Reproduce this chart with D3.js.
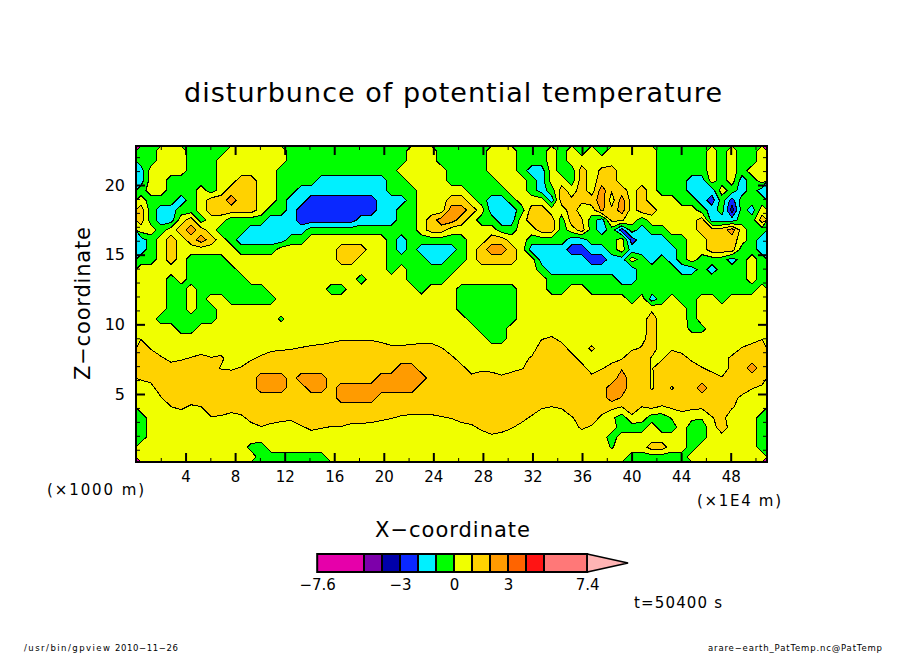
<!DOCTYPE html>
<html><head><meta charset="utf-8">
<script src="https://cdnjs.cloudflare.com/ajax/libs/d3/7.8.5/d3.min.js"></script>
<style>html,body{margin:0;padding:0;background:#fff}svg{display:block}text{font-family:"DejaVu Sans",sans-serif;fill:#000}</style>
</head><body><svg id="c" width="904" height="654"></svg>
<script>
const titleText="disturbunce of potential temperature";
const xTickValues=[4,8,12,16,20,24,28,32,36,40,44,48];
const xMinorValues=[2,6,10,14,18,22,26,30,34,38,42,46,50];
const yTickValues=[5,10,15,20];
const yMinorValues=[1,2,3,4,6,7,8,9,11,12,13,14,16,17,18,19,21,22];
const levels=[-7.6,-5,-4,-3,-2,-1,0,1,2,3,4,5,7.4];
const bandColors=["#e600aa","#7d00aa","#0000aa","#0a28ff","#00f0ff","#00ff00","#f0ff00","#ffd200","#ff9b00","#ff6400","#ff1414","#ff7878"];
const overColor="#ffb4b4";
const legendTicks=[-7.6,-3,0,3,7.4];
const xMax=50.93,zBottom=0.12,zTop=22.8;
const cols=63;
// potential temperature disturbance, top row first
const field=[
[-.5,-.5,.5,.5,.5,-.5,-.5,-.5,-.5,.5,.5,.5,.5,.5,.5,-.5,-.5,-.5,-.5,-.5,-.5,-.5,-.5,-.5,-.5,-.5,-.5,.5,.5,.5,-.5,-.5,-.5,-.5,-.5,.5,.5,.5,-.5,-.5,-.5,.5,-.5,.5,-.5,.5,-.5,.5,.5,.5,.5,.5,-.5,-.5,-.5,-.5,-.5,.5,-.5,.5,-.5,-.5,.5],
[-.5,-.5,.5,.5,.5,-.5,-.5,-.5,.5,.5,.5,.5,.5,.5,.5,-.5,-.5,-.5,-.5,-.5,-.5,-.5,-.5,-.5,-.5,-.5,-.5,.5,.5,.5,-.5,-.5,-.5,-.5,-.5,.5,.5,.5,-.5,-.5,-.5,.5,-.5,.5,.5,.5,.5,.5,.5,.5,.5,.5,-.5,-.5,-.5,-.5,-.5,.5,-.5,.5,-.5,-.5,.5],
[-1.5,.5,.5,.5,.5,-.5,-.5,-.5,.5,.5,.5,.5,.5,.5,-.5,-.5,-.5,-.5,-.5,-.5,-.5,-.5,-.5,-.5,-.5,-.5,.5,.5,.5,.5,.5,-.5,-.5,-.5,-.5,.5,.5,.5,-.5,-1.5,-1.5,.5,-.5,-.5,1.5,.5,1.2,1.5,.5,.5,.5,.5,-.5,-.5,-.5,-.5,-.5,.5,-.5,.5,-.5,.5,.5],
[-1.5,.5,.5,-.5,-.5,-.5,-.5,-.5,.5,.5,1.5,1.5,.5,.5,-.5,-.5,-.5,-.5,-1.5,-1.5,-1.5,-1.5,-1.5,-1.5,-1.5,-.5,-.5,.5,.5,.5,.5,-.5,-.5,-.5,-.5,-.5,.5,.5,.5,-.5,-1.5,.5,.5,-.5,1.5,.5,1.5,1.5,.5,.5,.5,.5,-.5,-.5,-.5,-1.5,-1.5,.5,-.5,.5,-1.5,-.5,.5],
[-.5,.5,.5,-.5,-.5,-.5,.5,-.5,.5,1.5,1.5,1.5,.5,.5,-.5,-.5,-1.5,-1.5,-1.5,-1.5,-1.5,-1.5,-1.5,-1.5,-1.5,-.5,-.5,-.5,.5,.5,.5,.5,.5,-.5,-.5,-.5,-.5,.5,.5,-.5,-1.5,-.5,1.5,.5,1.5,.5,2.5,1.1,1.5,.5,1.5,.5,-.5,-.5,-.5,-1.5,-1.5,-1.5,.5,-.5,-1.5,-.5,-1.5],
[.5,-.5,-.5,-.5,-1.5,-.5,.5,1.5,1.5,2.5,1.5,1.5,.5,.5,-.5,-1.5,-1.5,-2.5,-2.5,-2.5,-2.5,-2.5,-2.5,-2.5,-1.5,-1.5,-1.5,-.5,.5,.5,.5,1.5,1.5,.5,-.5,-1.5,-1.5,-.5,.5,.5,.5,-1.5,1.5,1.2,1.2,1.5,2.5,.5,2.5,.5,1.5,.5,.5,.5,-.5,-.5,-1.5,-2.5,-.5,-2.5,-.5,-.5,-.5],
[1.5,-.5,-1.5,-1.5,-.5,-.5,.5,1.5,1.5,1.5,1.5,1.5,.5,-.5,-.5,-1.5,-2.5,-2.5,-2.5,-2.5,-2.5,-2.5,-2.5,-2.5,-1.5,-1.5,-.5,-.5,.5,.5,.5,2.5,2.5,1.5,.5,-1.5,-1.5,-1.5,-.5,1.5,1.5,.5,.5,1.5,.5,.5,2.2,1.3,2.5,.5,1.5,1.5,.5,.5,.5,.5,-.5,-1.5,-.5,-3.5,-.5,-1.5,.5],
[1.5,-.5,-1.5,-1.5,.5,1.5,-.5,.5,.5,-.5,-.5,-.5,-.5,-1.5,-1.5,-1.5,-2.5,-2.5,-2.5,-2.5,-2.5,-2.5,-1.5,-1.5,-1.5,-1.5,-.5,-.5,.5,1.5,2.5,2.5,1.5,.5,-.5,-.5,-1.5,-1.5,.5,1.5,1.5,1.5,-.5,1.5,1.1,-.5,-1.5,1.3,1.1,.5,-.5,.5,.5,.5,.5,.5,1.5,-1.5,-1.5,-1.5,-.5,-.5,1.5],
[.5,.5,-.5,.5,1.5,2.5,1.5,.5,-.5,-.5,-.5,-1.5,-1.5,-1.5,-1.5,-1.5,-1.5,-.5,-.5,-.5,-.5,-.5,-.5,-.5,-.5,-.5,-.5,-.5,.5,1.5,1.5,.5,.5,.5,.5,.5,-.5,-.5,.5,.5,1.5,1.5,-.5,.5,1.5,-.5,-1.5,-.5,-2.5,-.5,-1.5,-.5,-.5,.5,.5,.5,1.5,1.5,1.5,2.5,.5,-.5,-.5],
[-1.5,-.5,.5,1.5,.5,1.5,2.5,1.5,.5,-.5,-1.5,-1.5,-1.5,-1.5,-1.5,-.5,-.5,.5,.5,.5,.5,.5,.5,.5,.5,-.5,-1.5,-.5,-.5,-.5,-.5,-.5,-.5,.5,.5,1.5,1.5,.5,.5,-.5,-.5,-.5,-.5,-1.5,-1.5,-.5,-.5,-.5,.5,-2.5,-1.5,-1.5,-1.5,-.5,-.5,.5,.5,1.5,1.5,1.5,.5,-.5,-1.5],
[-1.5,-.5,.5,1.5,.5,.5,.5,.5,.5,.5,-.5,-.5,-.5,-.5,.5,.5,.5,.5,.5,.5,1.5,1.5,1.5,.5,.5,-.5,-1.5,-.5,-1.5,-1.5,-1.5,-1.5,-.5,.5,1.5,2.5,2.5,1.5,.5,-1.5,-1.5,-1.5,-1.5,-2.5,-2.5,-1.5,-1.5,-.5,.5,-1.5,-1.5,-1.5,-1.5,-1.5,-.5,.5,.5,1.5,1.5,1.5,-.5,-.5,-1.5],
[-.5,-.5,.5,1.5,.5,-.5,-.5,-.5,-.5,.5,.5,.5,.5,.5,.5,.5,.5,.5,.5,.5,1.5,1.5,.5,.5,.5,-.5,-.5,-.5,-.5,-1.5,-1.5,-.5,-.5,.5,1.5,1.5,1.5,1.5,.5,.5,-1.5,-1.5,-1.5,-1.5,-1.5,-2.5,-2.5,-1.5,-1.5,.5,-.5,-1.5,-.5,-1.5,-.5,.5,-.5,-.5,-.5,-1.5,-.5,.5,-.5],
[.5,.5,.5,.5,.5,-.5,-.5,-.5,-.5,-.5,.5,.5,.5,.5,.5,.5,.5,.5,.5,.5,.5,.5,.5,.5,.5,-.5,.5,-.5,-.5,-.5,-.5,-.5,.5,.5,.5,.5,.5,.5,.5,.5,-.5,-1.5,-1.5,-1.5,-1.5,-1.5,-1.5,-1.5,-1.5,-1.5,-.5,-.5,-.5,-.5,-1.5,-1.5,-.5,-1.5,-.5,-.5,-.5,.5,-.5],
[.5,.5,.5,-.5,.5,-.5,-.5,-.5,-.5,-.5,-.5,.5,.5,.5,.5,.5,.5,.5,.5,.5,.5,.5,-.5,.5,.5,.5,.5,-.5,-.5,-.5,-.5,.5,.5,.5,.5,.5,.5,.5,.5,.5,.5,-.5,-.5,-.5,-.5,-.5,-.5,-.5,-1.5,-1.5,-.5,-.5,-.5,-.5,-.5,-.5,-.5,-.5,-.5,-.5,-.5,.5,-.5],
[.5,.5,.5,-.5,-.5,.5,-.5,-.5,-.5,-.5,-.5,-.5,-.5,.5,.5,.5,.5,.5,.5,-.5,-.5,.5,.5,.5,.5,.5,.5,.5,-.5,.5,.5,.5,-.5,-.5,-.5,-.5,-.5,-.5,.5,.5,.5,-.5,-.5,.5,.5,-.5,-.5,-.5,-.5,-.5,-.5,-.5,-.5,-.5,-.5,-.5,-.5,-.5,-.5,-.5,-.5,-.5,.5],
[.5,.5,.5,-.5,-.5,.5,-.5,.5,.5,-.5,-.5,-.5,-.5,-.5,.5,.5,.5,.5,.5,.5,.5,.5,.5,.5,.5,.5,.5,.5,.5,.5,.5,.5,-.5,-.5,-.5,-.5,-.5,-.5,.5,.5,.5,.5,.5,.5,.5,.5,.5,.5,.5,-.5,.5,-1.5,-.5,.5,-.5,-.5,.5,.5,-.5,.5,.5,.5,.5],
[.5,.5,.5,-.5,-.5,.5,-.5,-.5,.5,.5,.5,.5,.5,.5,.5,.5,.5,.5,.5,.5,.5,.5,.5,.5,.5,.5,.5,.5,.5,.5,.5,.5,-.5,-.5,-.5,-.5,-.5,-.5,.5,.5,.5,.5,.5,.5,.5,.5,.5,.5,.5,.5,.5,.8,.5,.5,.5,-.5,.5,.5,.5,.5,.5,.5,.5],
[.5,.5,-.5,-.5,-.5,-.5,-.5,-.5,.5,.5,.5,.5,.5,.5,-.2,.5,.5,.5,.5,.5,.5,.5,.5,.5,.5,.5,.5,.5,.5,.5,.5,.5,.5,-.5,-.5,-.5,-.5,-.5,.5,.5,.5,.5,.5,.5,.5,.5,.5,.5,.5,.5,.5,1.5,.5,.5,.5,-.5,.5,.5,.5,.5,.5,.5,.5],
[.5,.5,.5,.5,-.5,-.5,.5,.5,.5,.5,.5,.5,.5,.5,.5,.5,.5,.5,.5,.5,.5,.5,.5,.5,.5,.5,.5,.5,.5,.5,.5,.5,.5,.5,-.5,-.5,-.5,.5,.5,.5,.5,.2,.5,.5,.5,.5,.5,.5,.5,.5,.5,1.5,.5,.5,.5,-.3,-.3,.5,.5,.5,.5,.5,.5],
[.9,.5,.5,.5,.5,.5,.5,.5,.5,.5,.5,.5,.5,.5,.5,.5,.1,.3,.4,.6,.8,.8,.8,.8,.6,.3,.3,.4,.5,.5,.1,.5,.5,.5,.5,-.5,-.5,.5,.5,.5,.9,1.2,.6,.5,.5,.5,.5,.5,.5,.5,.7,1.5,.5,.5,.5,.5,.5,.5,.5,.5,.1,.5,.9],
[1.9,.9,.2,.5,.5,.1,.4,.1,.5,.5,.5,.5,.3,.7,.8,.9,1.1,1.3,1.4,1.6,1.8,1.8,1.8,1.8,1.6,1.3,1.3,1.4,1.5,1.5,1.1,.3,.5,.5,.5,.5,.5,.5,.5,.2,1.9,1.5,1.6,.5,.5,1.2,.5,.5,.5,.8,1.1,1.5,.5,.8,.5,.5,.5,.5,.5,.3,1.1,1.5,1.9],
[1.5,1.9,1.2,.6,.8,1.1,1.4,1.1,1.2,.5,.3,.8,1.3,1.7,1.8,1.9,1.5,1.5,1.5,1.5,1.5,1.5,1.5,1.5,1.5,1.5,1.5,1.5,1.5,1.5,1.5,1.3,.4,.5,.5,.5,.5,.5,.5,1.2,1.5,1.5,1.5,1.5,.5,.5,.5,.5,.9,1.8,1.5,.9,.8,1.8,1.5,.7,.1,.5,.5,1.3,1.5,1.5,1.5],
[1.5,1.5,1.5,1.6,1.8,1.5,1.5,1.5,.9,.8,1.1,1.8,1.5,1.5,1.5,1.5,1.5,1.5,1.5,1.5,1.5,1.5,1.5,1.5,1.5,1.5,2.5,2.5,1.5,1.5,1.5,1.5,1.4,.4,.7,.6,.3,.6,.9,1.5,1.5,1.5,1.5,1.5,1.5,.4,.9,1.5,1.9,1.5,1.5,.9,1.8,1.5,1.5,1.7,1.1,.6,.1,1.5,1.5,2.5,1.5],
[1.2,1.5,1.5,1.5,1.5,1.5,1.5,1.5,1.9,1.8,1.5,1.5,2.5,2.5,2.5,1.5,2.5,2.5,2.5,1.5,1.5,1.5,1.5,1.5,2.5,2.5,2.5,2.5,2.5,1.5,1.5,1.5,1.5,1.4,1.7,1.6,1.3,1.6,1.9,1.5,1.5,1.5,1.5,1.5,1.5,1.4,1.9,1.5,2.5,1.5,1.5,.9,1.5,1.5,1.5,1.5,1.5,1.6,1.1,1.5,1.5,1.5,1.7],
[.2,.5,1.9,1.5,1.5,1.5,1.5,1.5,1.5,1.5,1.5,1.5,2.5,2.5,2.5,1.5,1.5,2.5,2.5,1.5,2.5,2.5,2.5,2.5,2.5,2.5,2.5,2.5,1.5,1.5,1.5,1.5,1.5,1.5,1.5,1.5,1.5,1.5,1.5,1.5,1.5,1.5,1.5,1.5,1.5,1.5,1.5,2.5,2.5,1.5,1.5,.9,1.5,.9,1.5,1.5,2.5,1.5,1.5,1.5,1.7,1.1,.7],
[.5,.5,.9,1.9,1.5,1.7,1.9,1.5,1.5,1.5,1.5,1.5,1.5,1.5,1.5,1.5,1.5,1.5,1.5,1.5,2.5,2.5,2.5,2.5,1.5,1.5,1.5,1.5,1.5,1.5,1.5,1.5,1.5,1.5,1.5,1.5,1.5,1.5,1.5,1.5,1.5,1.9,1.5,1.5,1.5,1.5,1.5,2.5,1.9,1.5,1.9,1.5,1.8,1.5,1.5,1.5,1.5,1.5,1.5,1.5,.7,.1,.5],
[.5,.5,.5,.9,1.2,.7,.9,1.9,1.8,1.5,1.7,1.5,1.5,1.5,1.5,1.5,1.5,1.5,1.5,1.5,1.5,1.5,1.5,1.5,1.5,1.5,1.8,1.7,1.7,1.7,1.9,1.5,1.5,1.5,1.5,1.5,1.5,1.5,1.5,1.8,1.1,.9,1.1,1.9,1.5,1.5,1.7,1.2,.9,1.7,.9,1.1,.8,1.1,1.4,1.2,1.1,1.9,1.5,1.1,.5,.5,.5],
[-.5,.5,.5,.5,.2,.5,.5,.9,.8,.5,.7,1.5,1.9,1.6,1.4,1.3,1.8,1.5,1.5,1.9,1.9,1.6,1.6,1.5,1.3,1.1,.8,.7,.7,.7,.9,1.1,1.5,1.7,1.5,1.5,1.5,1.5,1.5,.8,.1,.5,.1,.9,1.5,1.8,.7,.2,-.5,.7,.5,-.5,-.5,.1,.4,.2,.1,.9,1.5,.1,.5,.5,-.5],
[-.5,.5,.5,.5,.5,.5,.5,.5,.5,.5,.5,.5,.9,.6,.4,.3,.8,1.3,1.1,.9,.9,.6,.6,.5,.3,.1,.5,.5,.5,.5,.5,.1,.5,.7,1.3,1.7,1.5,1.1,.5,.5,.5,.5,.5,.5,1.2,.8,.5,.5,-.5,-.5,-.5,.5,-.5,-.5,.5,-.5,-.5,.5,1.6,.5,.5,.5,-.5],
[-.5,.5,.5,.5,.5,.5,.5,.5,.5,.5,.5,.5,.5,.5,.5,.5,.5,.3,.1,.5,.5,.5,.5,.5,.5,.5,.5,.5,.5,.5,.5,.5,.5,.5,.3,.7,.5,.1,.5,.5,.5,.5,.5,.5,.2,.5,.5,-.5,.5,.5,.5,.5,.5,.5,.5,-.5,-.5,.5,.6,.5,.5,.5,-.5],
[.5,.5,.5,.5,.5,.5,.5,.5,.5,.5,.5,-.3,-.5,.5,.5,.5,.5,.5,.5,.5,.5,.5,.5,.5,.5,.5,.5,.5,.5,.5,.5,.5,.5,.5,.5,.5,.5,.5,.5,.5,.5,.5,.5,.5,.5,.5,.5,-.1,.5,.5,.5,1.5,1.5,.5,.5,-.5,.5,.5,.5,.5,.5,.5,-.5],
[.5,.5,.5,.5,.5,.5,.5,.5,.5,.5,.5,.5,-.5,-.5,-.5,-.5,-.5,-.5,-.5,.5,.5,.5,.5,.5,.5,.5,.5,.5,.5,.5,.5,.5,.5,.5,.5,.5,.5,.5,.5,.5,.5,.5,.5,.5,.5,.5,.5,.5,.5,-.5,-.5,-.5,-.5,-.5,-.5,.5,.5,.5,.5,.5,.5,.5,.5]
];

const svg=d3.select("#c");
const x=d3.scaleLinear().domain([0,xMax]).range([136,767]);
const y=d3.scaleLinear().domain([zBottom,zTop]).range([462,146]);
const rows=field.length;
const values=field.flatMap(r=>{const t=r.slice(0,cols);while(t.length<cols)t.push(t[t.length-1]);return t;});
const gx=d3.scaleLinear().domain([0,cols]).range([x(0),x(xMax)]);
const gy=d3.scaleLinear().domain([0,rows]).range([y(zTop),y(zBottom)]);
const path=d3.geoPath(d3.geoTransform({point(a,b){this.stream.point(gx(a),gy(b));}}));
const plot=svg.append("g");
plot.append("rect").attr("x",x(0)).attr("y",y(zTop)).attr("width",x(xMax)-x(0)).attr("height",y(zBottom)-y(zTop)).attr("fill",bandColors[0]);
const contours=d3.contours().size([cols,rows]).thresholds(levels);
const polys=contours(values);
plot.selectAll("path.band").data(polys).join("path").attr("class","band")
  .attr("d",path).attr("fill",d=>{const i=levels.indexOf(d.value);return i<bandColors.length?bandColors[i]:overColor;})
  .attr("stroke",d=>d3.extent(values)[0]<d.value&&d.value<d3.extent(values)[1]?"#000":"none")
  .attr("stroke-width",1).attr("shape-rendering","crispEdges");
function ax(gen,t,vals,size){
  const g=svg.append("g").attr("transform",t).call(gen.tickValues(vals).tickSize(size));
  g.select(".domain").remove();
  g.selectAll("line").attr("stroke","#000").attr("stroke-width",size>6?2:1);
  g.selectAll("text").remove();
  return g;
}
const b=`translate(0,${y(zBottom)})`,tp=`translate(0,${y(zTop)})`,l=`translate(${x(0)},0)`,r=`translate(${x(xMax)},0)`;
ax(d3.axisTop(x),b,xMinorValues,4);
ax(d3.axisBottom(x),tp,xMinorValues,4);
ax(d3.axisBottom(x),tp,xTickValues,9);
ax(d3.axisTop(x),b,xTickValues,9);
svg.append("g").attr("transform",b).call(d3.axisBottom(x).tickValues(xTickValues).tickSize(0).tickPadding(9))
  .call(g=>g.select(".domain").remove()).selectAll("text").attr("font-size",15).attr("fill","#000");
ax(d3.axisRight(y),l,yMinorValues,4);
ax(d3.axisLeft(y),r,yMinorValues,4);
ax(d3.axisRight(y),l,yTickValues,9);
ax(d3.axisLeft(y),r,yTickValues,9);
svg.append("g").attr("transform",l).call(d3.axisLeft(y).tickValues(yTickValues).tickSize(0).tickPadding(11))
  .call(g=>g.select(".domain").remove()).selectAll("text").attr("font-size",16).attr("fill","#000");
svg.append("rect").attr("x",x(0)).attr("y",y(zTop)).attr("width",x(xMax)-x(0)).attr("height",y(zBottom)-y(zTop)).attr("fill","none").attr("stroke","#000").attr("stroke-width",2);
function txt(s,px,py,size,len,anchor){
  const t=svg.append("text").attr("x",px).attr("y",py).attr("font-size",size).attr("text-anchor",anchor||"start").text(s);
  if(len)t.attr("textLength",len).attr("lengthAdjust","spacing");
  return t;
}
txt(titleText,184,102,27,538);
txt("X\u2212coordinate",375,537,21,155);
svg.append("text").attr("transform","translate(90,380) rotate(-90)").attr("font-size",21).attr("textLength",153).attr("lengthAdjust","spacing").text("Z\u2212coordinate");
txt("(\u00d71000 m)",47,495,15,97);
txt("(\u00d71E4 m)",697,506,15,84);
txt("t=50400 s",634,608,15,88);
txt("/usr/bin/gpview",24,651,8.5,86);
txt("2010\u221211\u221226",115,651,8.5,63);
txt("arare\u2212earth_PatTemp.nc@PatTemp",708,651,8.5,174);
const lg=d3.scaleLinear().domain([0,1]).range([454,472]);
const bar=svg.append("g");
bar.selectAll("rect").data(d3.pairs(levels)).join("rect")
  .attr("x",d=>lg(d[0])).attr("y",554).attr("width",d=>lg(d[1])-lg(d[0])).attr("height",18)
  .attr("fill",(d,i)=>bandColors[i]).attr("stroke","#000").attr("stroke-width",2);
const tipValue=9.67;
bar.append("path").attr("d",d3.line()([[lg(levels[levels.length-1]),554],[lg(tipValue),563],[lg(levels[levels.length-1]),572]])+"Z")
  .attr("fill",overColor).attr("stroke","#000").attr("stroke-width",1.5);
svg.append("g").attr("transform","translate(0,572)").call(d3.axisBottom(lg).tickValues(legendTicks).tickSize(0).tickPadding(7).tickFormat(d=>String(d).replace("-","\u2212")))
  .call(g=>g.select(".domain").remove()).selectAll("text").attr("font-size",15).attr("fill","#000");
</script></body></html>
